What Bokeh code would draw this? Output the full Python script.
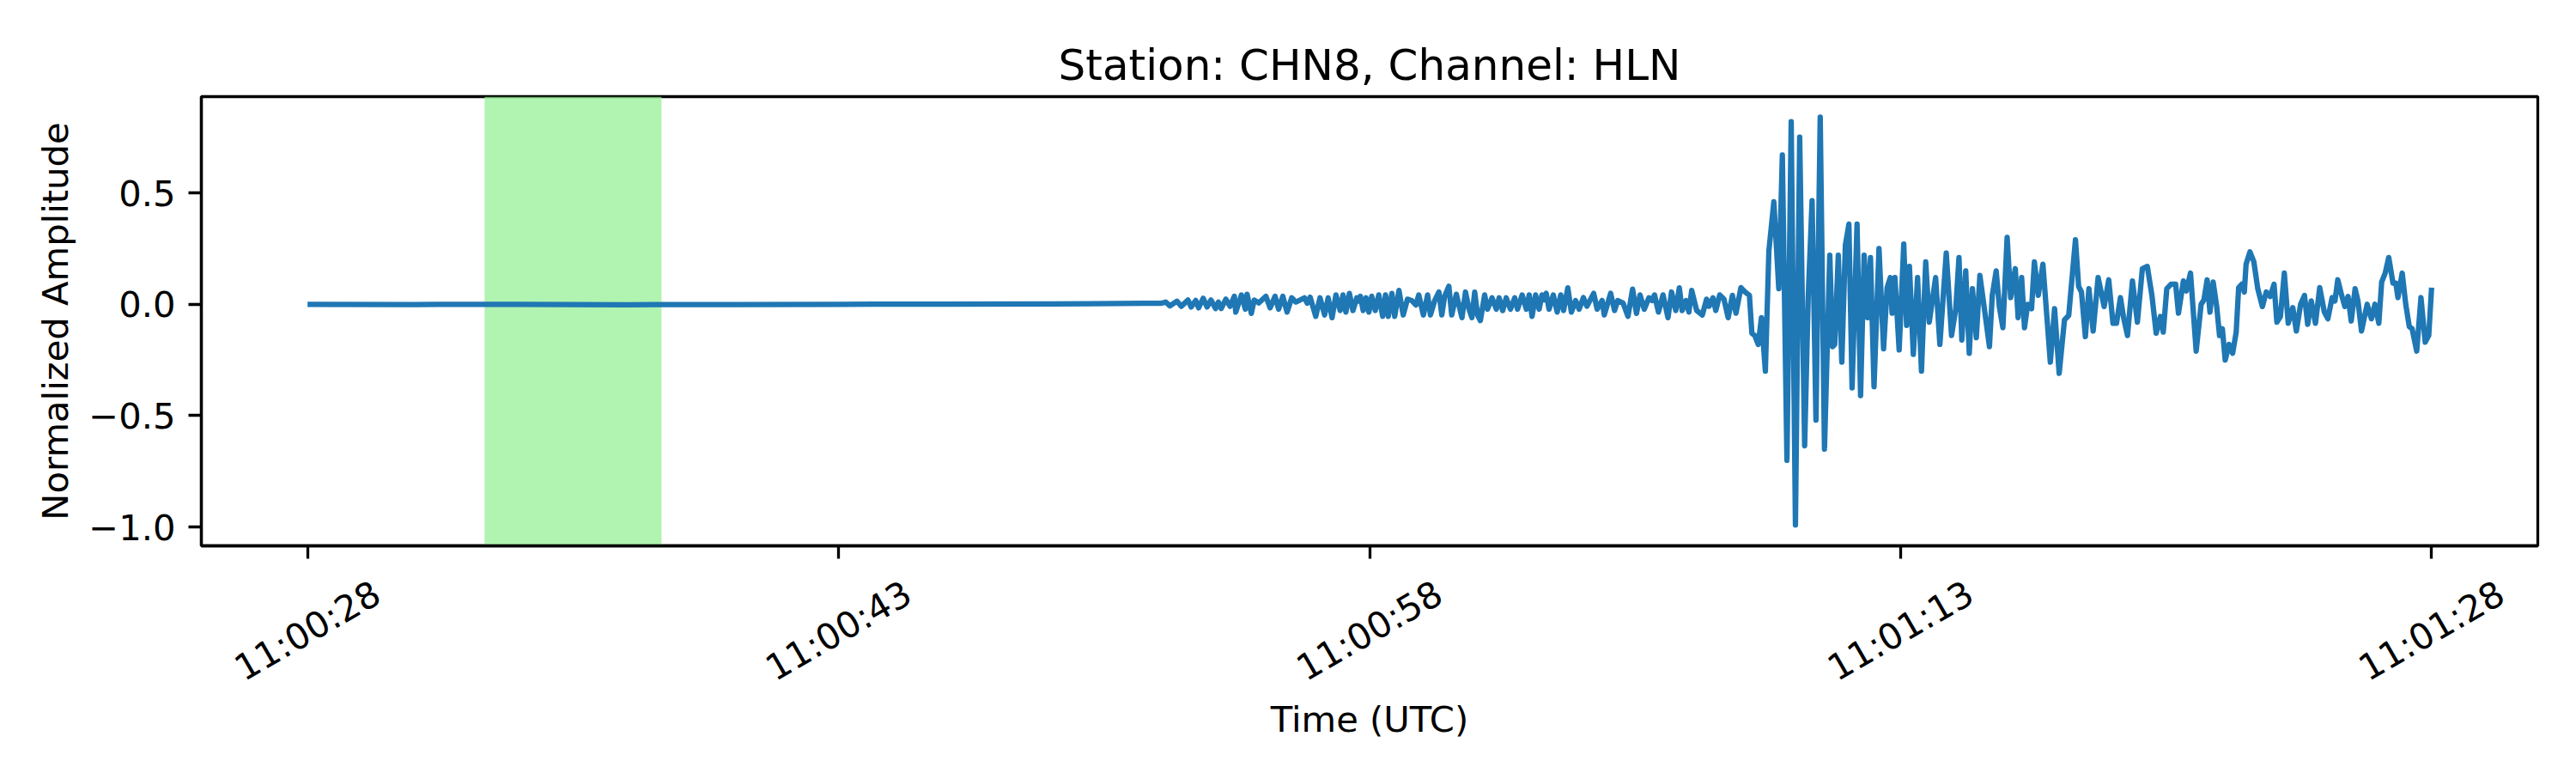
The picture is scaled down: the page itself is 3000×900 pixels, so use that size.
import math

from bokeh.plotting import figure
from bokeh.models import (ColumnDataSource, BoxAnnotation, FixedTicker, Range1d,
                          LinearAxis, CustomLabelingPolicy)
from bokeh.resources import INLINE
from bokeh.embed import file_html

# seconds after 11:00:28 UTC
t_sec = [
    0.0, 3.0, 6.0, 9.0, 12.0, 15.0, 18.0, 21.0, 23.6, 24.1,
    24.24, 24.36, 24.56, 24.68, 24.87, 24.96, 25.09, 25.17, 25.30, 25.41,
    25.52, 25.65, 25.73, 25.81, 25.94, 26.06, 26.18, 26.22, 26.38, 26.49,
    26.54, 26.66, 26.74, 26.87, 27.07, 27.19, 27.33, 27.43, 27.55, 27.67,
    27.80, 27.92, 28.16, 28.24, 28.32, 28.48, 28.60, 28.73, 28.83, 28.94,
    29.05, 29.17, 29.25, 29.33, 29.43, 29.53, 29.64, 29.69, 29.74, 29.82,
    29.90, 29.98, 30.06, 30.16, 30.26, 30.37, 30.45, 30.53, 30.63, 30.71,
    30.83, 30.95, 31.07, 31.19, 31.31, 31.39, 31.52, 31.64, 31.72, 31.84,
    31.96, 32.04, 32.12, 32.24, 32.32, 32.45, 32.61, 32.71, 32.81, 32.89,
    32.97, 33.05, 33.13, 33.25, 33.33, 33.46, 33.58, 33.66, 33.76, 33.86,
    33.98, 34.10, 34.18, 34.31, 34.43, 34.51, 34.59, 34.69, 34.79, 34.87,
    34.93, 34.99, 35.07, 35.19, 35.30, 35.40, 35.48, 35.60, 35.70, 35.82,
    35.92, 36.04, 36.14, 36.33, 36.43, 36.57, 36.63, 36.81, 36.92, 37.01,
    37.16, 37.30, 37.43, 37.54, 37.64, 37.76, 37.89, 37.98, 38.05, 38.16,
    38.29, 38.43, 38.53, 38.65, 38.75, 38.83, 38.94, 39.02, 39.10, 39.24,
    39.40, 39.52, 39.59, 39.70, 39.78, 39.89, 40.01, 40.13, 40.25, 40.35,
    40.49, 40.61, 40.73, 40.80, 40.88, 40.98, 41.07, 41.18, 41.28, 41.42,
    41.56, 41.66, 41.79, 41.91, 42.03, 42.15, 42.29, 42.39, 42.50, 42.61,
    42.73, 42.85, 43.00, 43.08, 43.14, 43.24, 43.34, 43.44, 43.54, 43.63,
    43.77, 43.87, 43.97, 44.07, 44.15, 44.25, 44.39, 44.52, 44.62, 44.71,
    44.76, 44.84, 44.96, 45.09, 45.17, 45.25, 45.36, 45.48, 45.59, 45.71,
    45.81, 45.99, 46.11, 46.29, 46.44, 46.56, 46.65, 46.73, 46.84, 46.94,
    47.03, 47.14, 47.24, 47.38, 47.51, 47.59, 47.70, 47.79, 47.89, 48.01,
    48.11, 48.24, 48.32, 48.42, 48.50, 48.59, 48.70, 48.78, 48.89, 49.02,
    49.23, 49.35, 49.48, 49.63, 49.75, 49.94, 50.03, 50.11, 50.22, 50.32,
    50.44, 50.58, 50.75, 50.88, 51.00, 51.10, 51.21, 51.30, 51.41, 51.55,
    51.69, 51.83, 51.97, 52.10, 52.22, 52.34, 52.42, 52.52, 52.64, 52.77,
    52.85, 52.99, 53.07, 53.19, 53.35, 53.49, 53.57, 53.66, 53.74, 53.83,
    53.93, 54.01, 54.09, 54.17, 54.28, 54.38, 54.48, 54.55, 54.64, 54.71,
    54.76, 54.87, 54.98, 55.09, 55.22, 55.33, 55.44, 55.55, 55.63, 55.73,
    55.84, 55.95, 56.08, 56.18, 56.30, 56.41, 56.50, 56.60, 56.72, 56.84,
    56.97, 57.07, 57.19, 57.27, 57.35, 57.46, 57.55, 57.64, 57.73, 57.84,
    57.92, 58.02, 58.18, 58.30, 58.40, 58.51, 58.59, 58.69, 58.79, 58.91,
    58.99, 59.05, 59.17, 59.27, 59.37, 59.45, 59.58, 59.70, 59.82, 59.92,
    60.00,
]

amp = [
    0.000, -0.001, 0.000, -0.002, -0.001, 0.000, 0.001, 0.002, 0.004, 0.004,
    0.010, -0.007, 0.014, -0.009, 0.019, -0.012, 0.017, -0.016, 0.027, -0.012,
    0.019, -0.019, 0.010, -0.019, 0.023, -0.009, 0.036, -0.035, 0.042, -0.022,
    0.045, -0.041, 0.019, 0.006, 0.036, -0.016, 0.036, -0.022, 0.036, -0.035,
    0.029, 0.010, 0.029, 0.005, 0.032, -0.054, 0.029, -0.048, 0.029, -0.060,
    0.042, -0.028, 0.042, -0.035, 0.049, -0.028, 0.029, 0.015, 0.036, -0.028,
    0.029, -0.035, 0.036, -0.028, 0.042, -0.054, 0.042, -0.054, 0.049, -0.054,
    0.062, -0.048, 0.023, 0.017, -0.003, 0.042, -0.048, 0.042, -0.048, 0.017,
    0.055, -0.048, 0.036, 0.081, -0.048, 0.045, -0.060, 0.055, -0.022, -0.060,
    0.055, -0.048, -0.073, 0.042, -0.022, 0.029, -0.022, 0.029, -0.028, 0.029,
    -0.022, 0.029, -0.022, 0.042, -0.022, 0.042, -0.054, 0.042, -0.022, 0.042,
    0.020, 0.049, -0.022, 0.042, -0.035, 0.042, -0.028, 0.074, -0.035, 0.017,
    -0.022, 0.030, -0.009, 0.049, -0.022, 0.017, -0.048, 0.049, -0.028, 0.017,
    0.006, -0.054, 0.068, -0.041, 0.042, -0.022, 0.029, 0.017, 0.042, -0.035,
    0.042, -0.060, 0.055, -0.028, 0.074, -0.028, 0.017, -0.035, 0.062, -0.028,
    -0.048, 0.023, -0.009, 0.029, -0.028, 0.042, 0.023, -0.060, 0.040, -0.040,
    0.075, 0.055, 0.040, -0.130, -0.140, -0.180, -0.060, -0.300, 0.240, 0.460,
    0.070, 0.670, -0.700, 0.820, -0.990, 0.750, -0.635, 0.030, 0.465, -0.520,
    0.840, -0.650, 0.220, -0.190, -0.180, 0.220, -0.260, 0.265, 0.360, -0.375,
    0.360, -0.410, 0.220, -0.060, 0.210, -0.370, 0.250, -0.200, 0.075, 0.120,
    -0.040, 0.120, -0.205, 0.270, -0.095, 0.170, -0.225, 0.120, -0.300, 0.190,
    -0.080, 0.120, -0.180, 0.230, -0.140, -0.020, 0.210, -0.160, 0.150, -0.220,
    0.070, -0.150, 0.130, -0.035, -0.190, 0.040, 0.150, -0.010, -0.105, 0.300,
    0.030, 0.160, -0.060, 0.120, -0.105, 0.000, -0.020, 0.190, 0.040, 0.180,
    -0.260, -0.020, -0.310, -0.070, -0.050, 0.290, 0.080, 0.055, -0.145, 0.070,
    -0.120, 0.120, -0.010, 0.110, -0.085, -0.085, 0.030, -0.060, -0.140, 0.105,
    -0.080, 0.160, 0.170, 0.040, -0.130, -0.055, -0.125, 0.070, 0.090, 0.090,
    -0.040, 0.105, 0.060, 0.140, -0.210, 0.000, 0.020, 0.110, -0.035, 0.100,
    -0.010, -0.140, -0.110, -0.250, -0.180, -0.220, -0.125, 0.075, 0.090, 0.055,
    0.180, 0.235, 0.190, 0.070, -0.010, 0.055, 0.035, 0.090, -0.080, -0.055,
    0.140, -0.085, -0.015, -0.120, 0.000, 0.040, -0.090, 0.015, -0.085, 0.075,
    -0.035, -0.065, 0.030, 0.015, 0.110, 0.040, -0.010, 0.035, -0.075, 0.070,
    0.015, -0.120, 0.000, -0.065, 0.000, -0.085, 0.100, 0.140, 0.210, 0.095,
    0.095, 0.030, 0.140, 0.000, -0.100, -0.110, -0.210, 0.030, -0.170, -0.140,
    0.075,
]

# highlighted window (seconds after start)
window_start = 5.0
window_end = 10.0

x_ticks = [0, 15, 30, 45, 60]
x_tick_labels = ["11:00:28", "11:00:43", "11:00:58", "11:01:13", "11:01:28"]
y_ticks = [-1.0, -0.5, 0.0, 0.5]
y_tick_labels = ["\u22121.0", "\u22120.5", "0.0", "0.5"]

FONT = "DejaVu Sans"
TICK_SIZE = "41.7px"
# bokeh right-aligns rotated labels at the tick, this centres them instead
LABEL_SHIFT = 1.965


def style_axis(ax):
    ax.axis_line_color = "black"
    ax.axis_line_width = 3.3
    ax.major_tick_line_color = "black"
    ax.major_tick_line_width = 3.3
    ax.major_tick_in = 0
    ax.major_tick_out = 15
    ax.minor_tick_in = 0
    ax.minor_tick_out = 0
    ax.major_label_standoff = 15
    ax.major_label_text_font = FONT
    ax.major_label_text_font_size = TICK_SIZE
    ax.major_label_text_color = "black"
    ax.axis_label_text_font = FONT
    ax.axis_label_text_font_size = TICK_SIZE
    ax.axis_label_text_font_style = "normal"
    ax.axis_label_text_color = "black"


def waveform_plot():
    source = ColumnDataSource(data={'t': t_sec, 'amp': amp})

    p = figure(title="Station: CHN8, Channel: HLN",
               width=2984, height=884,
               x_range=Range1d(-3.0, 63.0),
               y_range=Range1d(-1.084, 0.932),
               y_axis_label="Normalized Amplitude",
               output_backend="svg",
               toolbar_location=None,
               min_border_left=234, min_border_right=29,
               min_border_top=112, min_border_bottom=249)

    p.add_layout(BoxAnnotation(left=window_start, right=window_end,
                               fill_color="lightgreen", fill_alpha=0.7,
                               line_color=None, level="underlay"))

    p.line(x='t', y='amp', source=source,
           line_color="#1f77b4", line_width=6.25, line_join="round")

    p.title.align = "center"
    p.title.text_font = FONT
    p.title.text_font_size = "50px"
    p.title.text_font_style = "normal"
    p.title.text_color = "black"
    p.title.standoff = 16

    p.xgrid.visible = False
    p.ygrid.visible = False
    p.outline_line_color = "black"
    p.outline_line_width = 3.3
    p.outline_line_alpha = 1.0

    # y axis
    yax = p.yaxis[0]
    style_axis(yax)
    yax.ticker = FixedTicker(ticks=y_ticks)
    yax.major_label_overrides = dict(zip(y_ticks, y_tick_labels))
    yax.axis_label_standoff = 11

    # x axis: tick marks only, its own labels are all dropped
    xax = p.xaxis[0]
    style_axis(xax)
    xax.ticker = FixedTicker(ticks=x_ticks)
    xax.major_label_policy = CustomLabelingPolicy(code="return new Set()")
    xax.major_label_text_font_size = "1px"
    xax.major_label_standoff = 0

    # x axis: rotated time labels, centred under the ticks
    label_pos = [round(t + LABEL_SHIFT, 3) for t in x_ticks]
    lax = LinearAxis(ticker=FixedTicker(ticks=label_pos),
                     major_label_overrides=dict(zip(label_pos, x_tick_labels)),
                     axis_label="Time (UTC)")
    style_axis(lax)
    lax.axis_line_color = None
    lax.major_tick_line_color = None
    lax.major_tick_out = 0
    lax.major_label_standoff = 33
    lax.major_label_orientation = math.pi / 6
    lax.axis_label_standoff = -14
    p.add_layout(lax, "below")

    return p


if __name__ == '__main__':
    p = waveform_plot()
    open("out.html", "w").write(file_html(p, INLINE, "CHN8_HLN"))
